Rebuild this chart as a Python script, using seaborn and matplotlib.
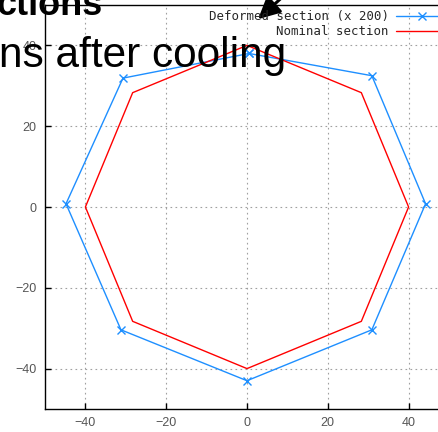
import matplotlib
matplotlib.use("Agg")
import matplotlib.pyplot as plt
import seaborn as sns
import numpy as np

# deformed section (scaled x 200), closed polygon
deformed_x = [0.5, 30.9, 44.2, 30.9, 0.0, -31.2, -44.8, -30.7, 0.5]
deformed_y = [38.0, 32.5, 0.8, -30.4, -43.0, -30.4, 0.8, 31.9, 38.0]
# nominal section
nominal_x = [0.0, 28.3, 40.0, 28.3, 0.0, -28.3, -40.0, -28.3, 0.0]
nominal_y = [40.0, 28.3, 0.0, -28.3, -40.0, -28.3, 0.0, 28.3, 40.0]

ticks = [-40, -20, 0, 20, 40]

sns.set_theme(style="white")
plt.rcParams['font.family'] = ['Liberation Sans', 'DejaVu Sans']

W, H = 438, 432
fig = plt.figure(figsize=(W / 100, H / 100), dpi=100)
# axes spans past the right edge of the picture (cropped like the reference)
ax = fig.add_axes([45 / W, (H - 409) / H, 404 / W, 404 / H])

blue = '#1e8fff'
sns.lineplot(x=deformed_x, y=deformed_y, sort=False, estimator=None, ax=ax,
             color=blue, lw=1.0, marker='x', markersize=5.5, mew=1.0,
             markeredgecolor=blue, label='Deformed section (x 200)')
sns.lineplot(x=nominal_x, y=nominal_y, sort=False, estimator=None, ax=ax,
             color='#ff0000', lw=1.0, label='Nominal section')

ax.set_xlim(-50, 50)
ax.set_ylim(-50, 50)
ax.set_xticks(ticks)
ax.set_yticks(ticks)
ax.set_xlabel('')
ax.set_ylabel('')
ax.grid(True, color='#a0a0a0', linestyle=(0, (1.5, 3)), lw=0.8)
ax.tick_params(direction='in', length=4, width=1, colors='black',
               labelsize=9, labelcolor='#555555', pad=6,
               bottom=True, left=True)
for s in ['left', 'bottom', 'top']:
    ax.spines[s].set_color('black')
    ax.spines[s].set_linewidth(1.0)
ax.spines['right'].set_visible(False)

leg = ax.legend(loc='upper right', bbox_to_anchor=(1.022, 1.012), frameon=False,
                markerfirst=False, handlelength=4.2, handletextpad=0.6,
                labelspacing=0.15, borderaxespad=0.4,
                prop={'family': 'DejaVu Sans Mono', 'size': 8.9})

# overlaid slide fragments
fig.text(103 / W, 1 - 15 / H, 'ctions', ha='right', va='baseline',
         fontsize=26, fontweight='bold', color='black')
fig.text(286 / W, 1 - 67 / H, 'ns after cooling', ha='right', va='baseline',
         fontsize=30.5, color='black')
ax.annotate('', xy=(256, H - 21), xycoords='figure pixels',
            xytext=(288, H + 8), textcoords='figure pixels',
            arrowprops=dict(arrowstyle='-|>,head_length=1.1,head_width=0.55',
                            color='black', lw=2.2))

fig.savefig('out.png', dpi=100)
